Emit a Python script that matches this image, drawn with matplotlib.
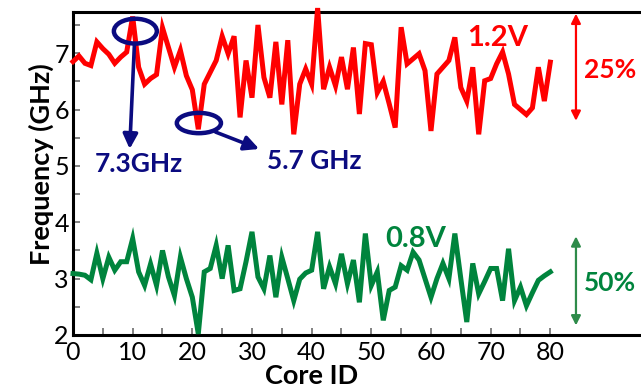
import matplotlib
matplotlib.use("Agg")
import matplotlib.pyplot as plt
from matplotlib.patches import Ellipse
import numpy as np

core_ids = list(range(0, 81))
freq_12v = [6.85, 6.95, 6.82, 6.78, 7.2, 7.08, 6.98, 6.82, 6.93, 7.02,
            7.65, 6.75, 6.45, 6.55, 6.62, 7.45, 7.1, 6.75, 7.05, 6.6,
            6.35, 5.65, 6.45, 6.66, 6.87, 7.3, 6.99, 7.3, 5.86, 6.87,
            6.21, 7.5, 6.57, 6.21, 7.2, 6.09, 7.23, 5.56, 6.45, 6.72,
            6.45, 7.8, 6.36, 6.75, 6.42, 6.93, 6.36, 7.1, 5.92, 7.17,
            7.15, 6.3, 6.5, 6.1, 5.68, 7.46, 6.81, 6.9, 6.99, 6.69,
            5.62, 6.63, 6.75, 6.87, 7.28, 6.39, 6.15, 6.75, 5.56, 6.51,
            6.55, 6.81, 7.02, 6.63, 6.09, 6.0, 5.91, 6.03, 6.75, 6.15,
            6.84]
freq_08v = [3.09, 3.08, 3.06, 2.98, 3.45, 3.0, 3.38, 3.15, 3.3, 3.3,
            3.71, 3.12, 2.88, 3.26, 2.88, 3.5, 3.03, 2.7, 3.38, 3.0,
            2.67, 2.02, 3.12, 3.18, 3.59, 3.0, 3.59, 2.79, 2.82, 3.3,
            3.83, 3.03, 2.82, 3.41, 2.67, 3.38, 3.0, 2.61, 2.99, 3.1,
            3.15, 3.83, 2.82, 3.21, 2.91, 3.44, 2.91, 3.33, 2.58, 3.8,
            2.88, 3.12, 2.26, 2.79, 2.85, 3.23, 3.15, 3.47, 3.33, 3.0,
            2.67, 3.0, 3.27, 3.0, 3.8, 3.0, 2.23, 3.27, 2.73, 2.95,
            3.18, 3.18, 2.61, 3.53, 2.61, 2.85, 2.52, 2.75, 2.97, 3.05,
            3.12]
x_tick_labels = ["0", "10", "20", "30", "40", "50", "60", "70", "80"]
y_tick_labels = ["2", "3", "4", "5", "6", "7"]

RED = "#ff0000"
GREEN = "#00843d"
GREEN_ARROW = "#2e8b4a"
NAVY = "#0b0b80"

plt.rcParams['font.family'] = ['Lato', 'DejaVu Sans']

fig = plt.figure(figsize=(6.41, 3.89), dpi=100)
ax = fig.add_axes([73/641, 54/389, 1 - 73/641, (335-12)/389])

ax.plot(core_ids, freq_12v, color=RED, lw=3.6, solid_joinstyle='miter', clip_on=False, zorder=3)
ax.plot(core_ids, freq_08v, color=GREEN, lw=3.6, solid_joinstyle='miter', clip_on=False, zorder=3)

ax.set_xlim(0, 95.2)
ax.set_ylim(2, 7.73)

ax.set_xticks([int(t) for t in x_tick_labels])
ax.set_xticklabels(x_tick_labels)
ax.set_xticks(np.arange(5, 81, 10), minor=True)
ax.set_yticks([int(t) for t in y_tick_labels])
ax.set_yticklabels(y_tick_labels)
ax.set_yticks(np.arange(2.5, 7.6, 1.0), minor=True)

ax.tick_params(axis='both', which='both', direction='in', length=5, width=1.3,
               color='#777777', labelsize=18)
ax.tick_params(axis='x', pad=4)
ax.tick_params(axis='y', pad=3)

for s in ['left', 'bottom', 'top']:
    ax.spines[s].set_linewidth(2.2)
    ax.spines[s].set_color('black')
ax.spines['right'].set_visible(False)

ax.set_xlabel("Core ID", fontsize=19.5, fontweight='bold', labelpad=0)
ax.xaxis.label.set_x((312 - 73) / (641 - 73))
ax.set_ylabel("Frequency (GHz)", fontsize=19.5, fontweight='bold', labelpad=0)
ax.yaxis.label.set_y(0.53)

# annotations
ax.text(66.1, 7.27, "1.2V", color=RED, fontsize=21, fontweight='bold', ha='left', va='center')
ax.text(52.3, 3.7, "0.8V", color=GREEN, fontsize=21, fontweight='bold', ha='left', va='center')
ax.text(85.6, 6.7, "25%", color=RED, fontsize=19, fontweight='bold', ha='left', va='center')
ax.text(85.6, 2.92, "50%", color=GREEN, fontsize=19, fontweight='bold', ha='left', va='center')

ax.annotate("", xy=(84.3, 5.8), xytext=(84.3, 7.7),
            arrowprops=dict(arrowstyle='<|-|>', color=RED, lw=1.6, mutation_scale=14,
                            shrinkA=0, shrinkB=0), annotation_clip=False)
ax.annotate("", xy=(84.3, 2.17), xytext=(84.3, 3.75),
            arrowprops=dict(arrowstyle='<|-|>', color=GREEN_ARROW, lw=1.6, mutation_scale=14,
                            shrinkA=0, shrinkB=0), annotation_clip=False)

e1 = Ellipse((10.45, 7.39), 7.2, 0.44, fill=False, edgecolor=NAVY, lw=3.2, zorder=4, clip_on=False)
e2 = Ellipse((21.1, 5.76), 7.4, 0.36, fill=False, edgecolor=NAVY, lw=3.2, zorder=4)
ax.add_patch(e1)
ax.add_patch(e2)
ax.annotate("", xy=(9.5, 5.3), xytext=(10.3, 7.17),
            arrowprops=dict(arrowstyle='-|>', color=NAVY, lw=2.6, mutation_scale=22,
                            shrinkA=0, shrinkB=0), zorder=4)
ax.annotate("", xy=(31.2, 5.3), xytext=(23.9, 5.6),
            arrowprops=dict(arrowstyle='-|>', color=NAVY, lw=2.6, mutation_scale=22,
                            shrinkA=0, shrinkB=0), zorder=4)
ax.text(11.0, 5.04, "7.3GHz", color=NAVY, fontsize=19, fontweight='bold', ha='center', va='center')
ax.text(40.5, 5.09, "5.7 GHz", color=NAVY, fontsize=19, fontweight='bold', ha='center', va='center')

fig.savefig("out.png", dpi=100)
